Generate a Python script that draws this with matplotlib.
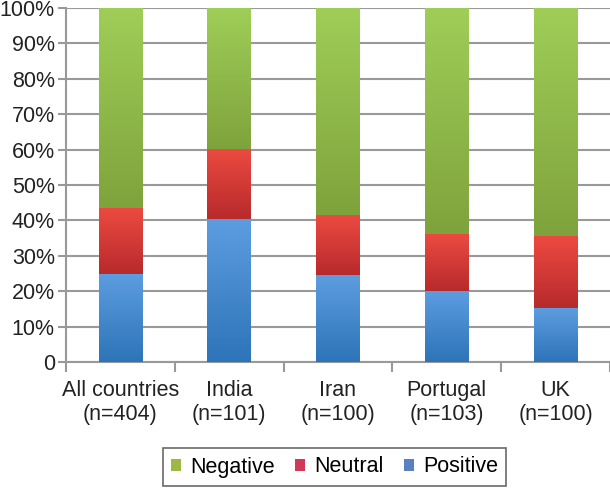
import numpy as np
import matplotlib
matplotlib.use("Agg")
import matplotlib.pyplot as plt
from matplotlib.colors import LinearSegmentedColormap

plt.rcParams['font.family'] = ['Liberation Sans', 'DejaVu Sans']

categories = ["All countries\n(n=404)", "India\n(n=101)", "Iran\n(n=100)",
              "Portugal\n(n=103)", "UK\n(n=100)"]
positive = [25.0, 40.3, 24.5, 20.1, 15.2]
neutral = [18.4, 19.9, 16.9, 16.0, 20.3]
negative = [56.6, 39.8, 58.6, 63.9, 64.5]

fig = plt.figure(figsize=(6.1, 4.88), dpi=100)
ax = fig.add_axes([0.108, 0.258, 0.892, 0.726])

x = np.arange(len(categories))
w = 0.40

# (top colour, bottom colour) for a soft vertical gradient, like the original
shades = {
    "Positive": ("#5c9de0", "#2e74b8"),
    "Neutral": ("#ec4a40", "#b82a2c"),
    "Negative": ("#9fce58", "#7fa33c"),
}
legend_cols = {"Positive": "#5b80c0", "Neutral": "#d03a58", "Negative": "#9db846"}

bottom = np.zeros(len(categories))
for name, vals in [("Positive", positive), ("Neutral", neutral), ("Negative", negative)]:
    bars = ax.bar(x, vals, w, bottom=bottom, color=legend_cols[name], zorder=2,
                  linewidth=0, label=name)
    cmap = LinearSegmentedColormap.from_list(name, [shades[name][1], shades[name][0]])
    for b in bars:
        x0, y0 = b.get_x(), b.get_y()
        grad = np.linspace(0, 1, 100).reshape(-1, 1)
        im = ax.imshow(grad, cmap=cmap, origin="lower", aspect="auto",
                       extent=[x0, x0 + b.get_width(), y0, y0 + b.get_height()], zorder=3)
        im.set_clip_path(b)
    bottom += np.array(vals)

ax.set_xlim(-0.5, len(categories) - 0.5)
ax.set_ylim(0, 100)
ax.set_yticks(np.arange(0, 101, 10))
ax.set_yticklabels(["0"] + [f"{v}%" for v in range(10, 101, 10)])
ax.set_xticks(x)
ax.set_xticklabels(categories)
ax.set_xticks(np.arange(-0.5, len(categories)), minor=True)
ax.tick_params(axis="x", which="major", length=0, pad=13, labelsize=15.5, colors="#222222")
ax.tick_params(axis="x", which="minor", length=7, width=1.5, color="#999999")
ax.tick_params(axis="y", length=6, width=1.5, color="#999999", labelsize=15.5,
               labelcolor="#222222", pad=2)
ax.grid(axis="y", color="#999999", linewidth=1.5, zorder=0)
for s in ["top", "right"]:
    ax.spines[s].set_visible(False)
for s in ["left", "bottom"]:
    ax.spines[s].set_color("#999999")
    ax.spines[s].set_linewidth(1.5)

h, l = ax.get_legend_handles_labels()
leg = fig.legend(h[::-1], l[::-1], loc="center", bbox_to_anchor=(334.5 / 610, 1 - 467 / 488),
                 ncol=3, fontsize=15.5, frameon=True, fancybox=False, handlelength=0.47,
                 handleheight=0.47, handletextpad=0.42, columnspacing=0.93, borderpad=0.4)
leg.get_frame().set_edgecolor("#444444")
leg.get_frame().set_linewidth(1.2)

fig.savefig("out.png", dpi=100)
